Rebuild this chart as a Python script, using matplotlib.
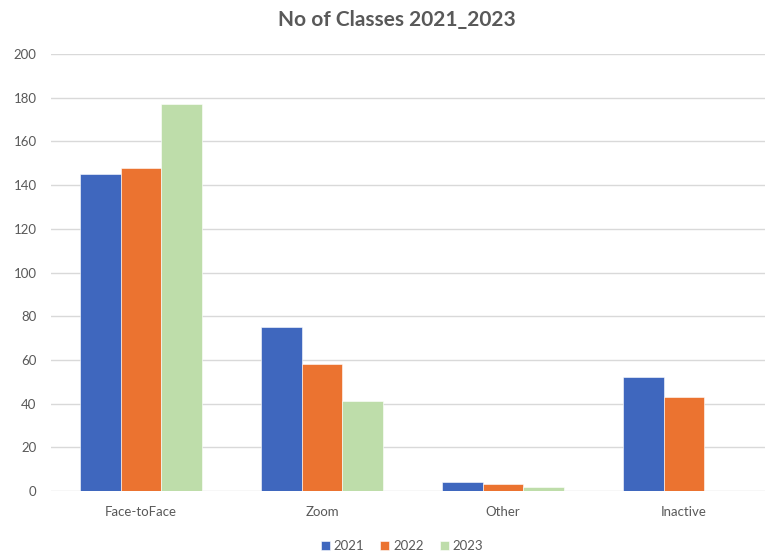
import numpy as np
import matplotlib.pyplot as plt

categories = ['Face-toFace', 'Zoom', 'Other', 'Inactive']
years = ['2021', '2022', '2023']
values_2021 = [145, 75, 4, 52]
values_2022 = [148, 58, 3, 43]
values_2023 = [177, 41, 2, 0]
colors = ['#3F67BE', '#EB7330', '#BEDDAA']

plt.rcParams['font.family'] = ['Lato', 'DejaVu Sans']

fig = plt.figure(figsize=(7.65, 5.54), dpi=100)
ax = fig.add_axes([50.5 / 765, 63 / 554, 714.5 / 765, 437 / 554])

x = np.arange(len(categories))
w = 0.224
for i, (vals, yr) in enumerate(zip([values_2021, values_2022, values_2023], years)):
    ax.bar(x + (i - 1) * w, vals, width=w, color=colors[i], label=yr,
           edgecolor='white', linewidth=0.4, zorder=3)

ax.set_xlim(-0.5, 3.447)
ax.set_ylim(0, 200)
ax.set_yticks(range(0, 201, 20))
ax.set_xticks(x)
ax.set_xticklabels(categories)
ax.grid(axis='y', color='#D9D9D9', linewidth=1, zorder=0)
for s in ax.spines.values():
    s.set_visible(False)
ax.tick_params(axis='both', length=0, colors='#595959', labelsize=9.5)
ax.tick_params(axis='y', pad=10)
ax.tick_params(axis='x', pad=11)

fig.text(397 / 765, 1 - 20 / 554, 'No of Classes 2021_2023', ha='center', va='center',
         fontsize=15, fontweight='bold', color='#595959')

ax.legend(loc='center', bbox_to_anchor=(0.492, -0.126), ncol=3, frameon=False,
          fontsize=9.5, handlelength=0.7, handleheight=0.7, handletextpad=0.3,
          columnspacing=1.2, labelcolor='#595959')

fig.savefig('out.png', dpi=100)
